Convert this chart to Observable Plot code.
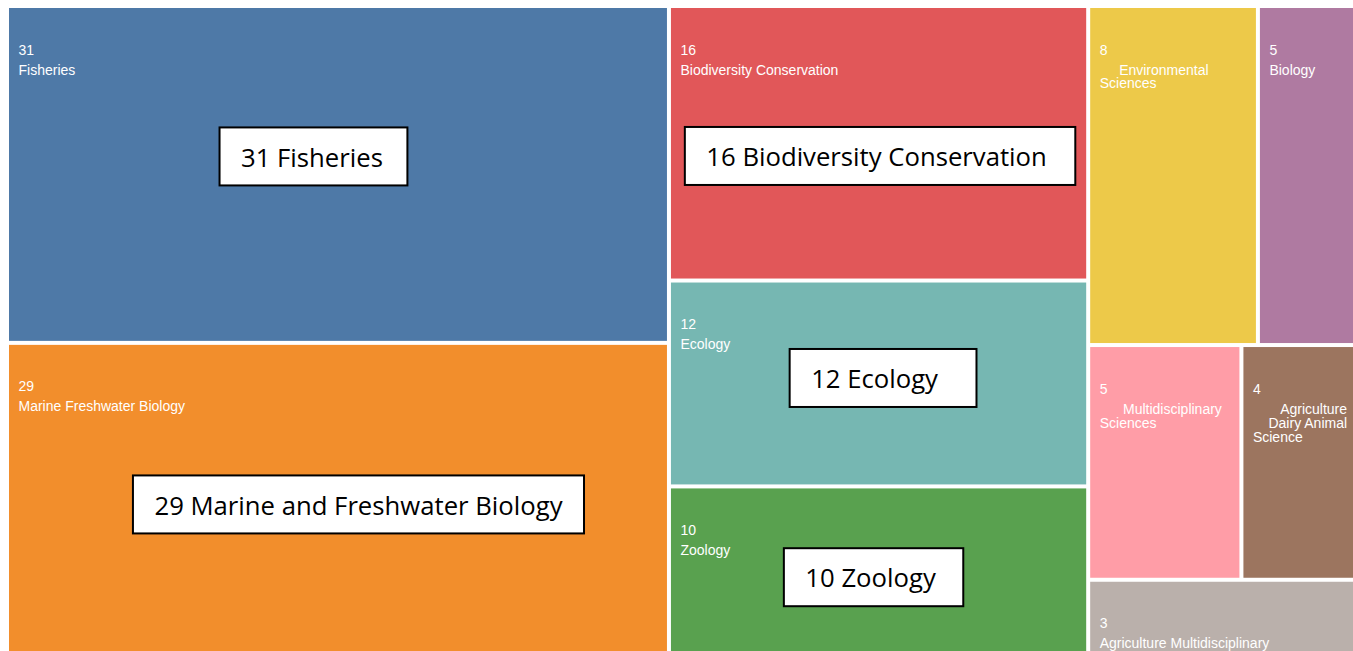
<!DOCTYPE html>
<html>
<head>
<meta charset="utf-8">
<script src="https://cdn.jsdelivr.net/npm/d3@7"></script>
<script src="https://cdn.jsdelivr.net/npm/@observablehq/plot@0.6"></script>
<style>
  html, body { margin: 0; padding: 0; background: #ffffff; }
</style>
</head>
<body>
<div id="chart"></div>
<script>
// ---- data ----
const categories = [
  "Fisheries",
  "Marine Freshwater Biology",
  "Biodiversity Conservation",
  "Ecology",
  "Zoology",
  "Environmental Sciences",
  "Biology",
  "Multidisciplinary Sciences",
  "Agriculture Dairy Animal Science",
  "Agriculture Multidisciplinary"
];
const counts = [31, 29, 16, 12, 10, 8, 5, 5, 4, 3];
// tile labels as displayed (with the original line wrapping / indentation)
const tileLabels = [
  "Fisheries",
  "Marine Freshwater Biology",
  "Biodiversity Conservation",
  "Ecology",
  "Zoology",
  "\u00a0\u00a0\u00a0\u00a0\u00a0Environmental\nSciences",
  "Biology",
  "\u00a0\u00a0\u00a0\u00a0\u00a0\u00a0Multidisciplinary\nSciences",
  "\u00a0\u00a0\u00a0\u00a0\u00a0\u00a0\u00a0Agriculture\n\u00a0\u00a0\u00a0\u00a0Dairy Animal\nScience",
  "Agriculture Multidisciplinary"
];
const calloutCategories = ["Fisheries", "Marine Freshwater Biology", "Biodiversity Conservation", "Ecology", "Zoology"];
const calloutTexts = ["31 Fisheries", "29 Marine and Freshwater Biology", "16 Biodiversity Conservation", "12 Ecology", "10 Zoology"];
const palette = ["#4e79a7", "#f28e2c", "#e15759", "#76b7b2", "#59a14f", "#edc949", "#af7aa1", "#ff9da7", "#9c755f", "#bab0ab"];

// ---- layout options (not data) ----
const W = 1353, H = 651;
const origin = {x: 7, y: 6}, size = [1357, 652];
const calloutNudge = [[-24.5, -18], [20.5, 4], [1.5, 12.7], [4.5, -5.5], [-5, 5]];
const calloutPad = [46, 43, 50, 60, 49];
const smallFont = "'Liberation Sans', Arial, sans-serif";
const smallSize = 14;
const bigFont = "'Open Sans', sans-serif";
const bigSize = 25.7;

// ---- treemap ----
const root = d3.hierarchy({children: categories.map((c, i) => ({name: c, value: counts[i], label: tileLabels[i]}))})
  .sum(d => d.value || 0)
  .sort((a, b) => b.value - a.value);
d3.treemap().size(size).tile(d3.treemapSquarify)(root);

const tiles = root.leaves().map(l => ({
  name: l.data.name,
  value: l.data.value,
  label: l.data.label,
  x0: l.x0 + origin.x, x1: l.x1 + origin.x,
  y0: l.y0 + origin.y, y1: l.y1 + origin.y
}));

// ---- callouts ----
const ctx = document.createElement("canvas").getContext("2d");
ctx.font = `${bigSize}px 'Open Sans'`;
const callouts = calloutCategories.map((c, i) => {
  const t = tiles.find(d => d.name === c);
  const cx = (t.x0 + t.x1) / 2 + calloutNudge[i][0];
  const cy = (t.y0 + t.y1) / 2 + calloutNudge[i][1];
  const w = ctx.measureText(calloutTexts[i]).width + calloutPad[i];
  return {text: calloutTexts[i], bx1: cx - w / 2, bx2: cx + w / 2, by1: cy - 29, by2: cy + 29, tx: cx - w / 2 + 21, ty: cy + 1.5};
});

const top0 = 0.71 * smallSize;
const chart = Plot.plot({
  width: W,
  height: H,
  margin: 0,
  x: {domain: [0, W], range: [0, W], axis: null},
  y: {domain: [0, H], range: [0, H], axis: null},
  color: {domain: categories, range: palette},
  style: {background: "#ffffff", fontFamily: smallFont},
  marks: [
    Plot.rect(tiles, {x1: "x0", x2: "x1", y1: "y0", y2: "y1", fill: "name", inset: 2}),
    Plot.text(tiles, {
      x: d => d.x0 + 11, y: d => d.y0 + 48 - top0, text: d => String(d.value),
      textAnchor: "start", lineAnchor: "top", fill: "white", fontSize: smallSize, fontFamily: smallFont
    }),
    Plot.text(tiles, {
      x: d => d.x0 + 11, y: d => d.y0 + 68 - top0, text: "label",
      textAnchor: "start", lineAnchor: "top", lineHeight: 1, fill: "white", fontSize: smallSize, fontFamily: smallFont
    }),
    Plot.rect(callouts, {x1: "bx1", x2: "bx2", y1: "by1", y2: "by2", fill: "white", stroke: "black", strokeWidth: 2}),
    Plot.text(callouts, {
      x: "tx", y: "ty", text: "text", textAnchor: "start", lineAnchor: "middle",
      fill: "black", fontSize: bigSize, fontFamily: bigFont
    })
  ]
});
document.getElementById("chart").appendChild(chart);
</script>
</body>
</html>
